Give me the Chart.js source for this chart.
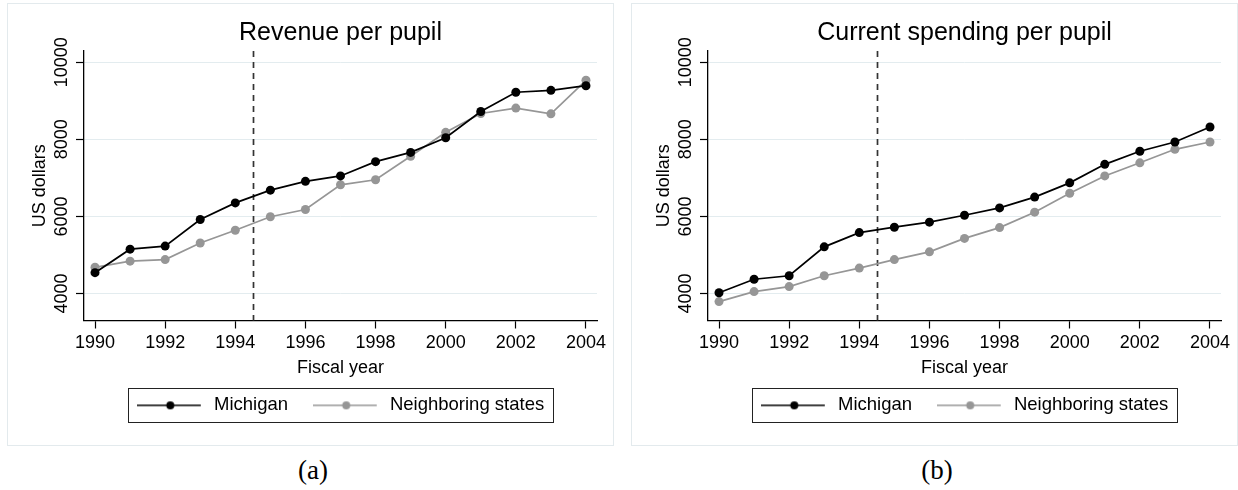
<!DOCTYPE html>
<html>
<head>
<meta charset="utf-8">
<script src="https://cdn.jsdelivr.net/npm/chart.js@4/dist/chart.umd.min.js"></script>
<style>
  html, body { margin: 0; padding: 0; background: #fff; }
  body { width: 1238px; height: 490px; position: relative; overflow: hidden; }
  .panel { position: absolute; top: 3px; width: 607px; height: 443px; box-sizing: border-box;
           border: 1px solid #e3eaed; background: #fff; }
  .panel canvas { display: block; }
  .cap { position: absolute; top: 455px; width: 120px; text-align: center; color: #000;
         font-family: "Liberation Serif", "Times New Roman", serif; font-size: 27px; line-height: 30px; }
</style>
</head>
<body>
<div class="panel" style="left:7px"><canvas id="revenue" width="605" height="441"></canvas></div>
<div class="panel" style="left:631px"><canvas id="spending" width="605" height="441"></canvas></div>
<div class="cap" style="left:253px">(a)</div>
<div class="cap" style="left:877px">(b)</div>

<script>
// Fiscal years and per-pupil dollar figures
const years = [1990, 1991, 1992, 1993, 1994, 1995, 1996, 1997, 1998, 1999, 2000, 2001, 2002, 2003, 2004];
const revenueMichigan  = [4540, 5150, 5230, 5920, 6350, 6680, 6910, 7050, 7420, 7660, 8040, 8720, 9220, 9270, 9390];
const revenueNeighbors = [4680, 4840, 4880, 5310, 5640, 5990, 6180, 6820, 6950, 7560, 8180, 8670, 8810, 8660, 9530];
const spendingMichigan  = [4020, 4370, 4460, 5210, 5580, 5720, 5850, 6030, 6220, 6500, 6870, 7350, 7690, 7930, 8320];
const spendingNeighbors = [3790, 4050, 4180, 4460, 4660, 4880, 5080, 5430, 5710, 6110, 6600, 7050, 7390, 7740, 7930];

const yearTicks = [1990, 1992, 1994, 1996, 1998, 2000, 2002, 2004];
const dollarTicks = [4000, 6000, 8000, 10000];
const seriesNames = ['Michigan', 'Neighboring states'];
const reformYear = 1994.5;   // Proposal A took effect between FY1994 and FY1995

const FONT = '"Liberation Sans", Arial, Helvetica, sans-serif';
const TICK_SIZE = 18;
const COLORS = ['#000000', '#969696'];

Chart.defaults.font.family = FONT;
Chart.defaults.color = '#000';

// Width of the widest dollar label, used to centre the rotated labels beside the axis
const measure = document.createElement('canvas').getContext('2d');
measure.font = 'normal ' + TICK_SIZE + 'px ' + FONT;
const widestDollar = Math.max(...dollarTicks.map(v => measure.measureText(String(v)).width));
const Y_AXIS_W = 76, TICK_LEN = 8, LABEL_CENTRE = 54;
const yTickPad = (Y_AXIS_W - TICK_LEN - LABEL_CENTRE) - widestDollar / 2;

// Legend key: a short line with a marker in the middle
function legendKey(color) {
  const c = document.createElement('canvas');
  c.width = 68; c.height = 12;
  const g = c.getContext('2d');
  g.strokeStyle = color; g.lineWidth = 1.6;
  g.beginPath(); g.moveTo(0, 6); g.lineTo(64, 6); g.stroke();
  g.fillStyle = color;
  g.beginPath(); g.arc(33.5, 6, 4, 0, Math.PI * 2); g.fill();
  return c;
}
const legendKeys = COLORS.map(legendKey);

// Vertical dashed reference line at the reform year
const reformLine = {
  id: 'reformLine',
  beforeDatasetsDraw(chart) {
    const { ctx, chartArea, scales } = chart;
    const x = Math.round(scales.x.getPixelForValue(reformYear)) + 0.5;
    ctx.save();
    ctx.strokeStyle = '#333';
    ctx.lineWidth = 1.7;
    ctx.setLineDash([6, 5]);
    ctx.beginPath();
    ctx.moveTo(x, chartArea.top);
    ctx.lineTo(x, chartArea.bottom);
    ctx.stroke();
    ctx.restore();
  }
};

// Frame drawn around the legend entries
const legendFrame = {
  id: 'legendFrame',
  afterDraw(chart) {
    const boxes = chart.legend && chart.legend.legendHitBoxes;
    if (!boxes || !boxes.length) return;
    const first = boxes[0], last = boxes[boxes.length - 1];
    const left = Math.round(first.left - 9) + 0.5;
    const right = Math.round(last.left + last.width + 9) + 0.5;
    const cy = first.top + first.height / 2;
    const top = Math.round(cy - 17.5) + 0.5;
    const bottom = Math.round(cy + 16.5) + 0.5;
    const ctx = chart.ctx;
    ctx.save();
    ctx.strokeStyle = '#222';
    ctx.lineWidth = 1;
    ctx.strokeRect(left, top, right - left, bottom - top);
    ctx.restore();
  }
};

function makeChart(canvasId, title, michigan, neighbors) {
  const series = [michigan, neighbors];
  return new Chart(document.getElementById(canvasId), {
    type: 'line',
    data: {
      datasets: series.map((vals, i) => ({
        label: seriesNames[i],
        data: years.map((yr, k) => ({ x: yr, y: vals[k] })),
        borderColor: COLORS[i],
        backgroundColor: COLORS[i],
        pointBackgroundColor: COLORS[i],
        pointBorderColor: COLORS[i],
        borderWidth: 1.7,
        pointRadius: 4.5,
        pointBorderWidth: 0,
        tension: 0,
        fill: false
      }))
    },
    options: {
      responsive: false,
      devicePixelRatio: 1,
      animation: false,
      events: [],
      layout: { padding: { top: 0, left: 0, right: 16, bottom: 20.4 } },
      scales: {
        x: {
          type: 'linear',
          min: 1989.686,
          max: 2004.314,
          afterBuildTicks: s => { s.ticks = yearTicks.map(v => ({ value: v })); },
          afterFit: s => { s.height = 51; },
          ticks: { callback: v => String(v), font: { size: TICK_SIZE }, padding: 3.5, color: '#000', maxRotation: 0, autoSkip: false },
          grid: { display: true, drawOnChartArea: false, tickLength: TICK_LEN, tickColor: '#000', tickWidth: 1.2 },
          border: { display: true, color: '#000', width: 1.3 },
          title: { display: true, text: 'Fiscal year', font: { size: 18 }, color: '#000', padding: { top: 0, bottom: -7.2 } }
        },
        y: {
          type: 'linear',
          min: 3300,
          max: 10290,
          afterBuildTicks: s => { s.ticks = dollarTicks.map(v => ({ value: v })); },
          afterFit: s => { s.width = Y_AXIS_W; },
          ticks: { callback: v => String(v), font: { size: TICK_SIZE }, color: '#000',
                   minRotation: 90, maxRotation: 90, crossAlign: 'center', padding: yTickPad, autoSkip: false },
          grid: { display: true, drawOnChartArea: true, color: '#e3ecef', lineWidth: 1,
                  tickLength: TICK_LEN, tickColor: '#000', tickWidth: 1.2 },
          border: { display: true, color: '#000', width: 1.3 },
          title: { display: true, text: 'US dollars', font: { size: 18 }, color: '#000', padding: { top: 21.2, bottom: 0 } }
        }
      },
      plugins: {
        title: {
          display: true, text: title, fullSize: false,
          font: { size: 25, weight: 'normal' }, color: '#000',
          padding: { top: 14, bottom: 3 }
        },
        legend: {
          display: true, position: 'bottom', fullSize: false,
          labels: {
            usePointStyle: true,
            pointStyleWidth: 68,
            padding: 24.6,
            color: '#000',
            font: { size: 18.5 },
            generateLabels: chart => chart.data.datasets.map((ds, i) => ({
              text: ds.label,
              pointStyle: legendKeys[i],
              fillStyle: COLORS[i],
              strokeStyle: COLORS[i],
              lineWidth: 0,
              hidden: false,
              datasetIndex: i
            }))
          }
        },
        tooltip: { enabled: false }
      }
    },
    plugins: [reformLine, legendFrame]
  });
}

makeChart('revenue', 'Revenue per pupil', revenueMichigan, revenueNeighbors);
makeChart('spending', 'Current spending per pupil', spendingMichigan, spendingNeighbors);
</script>
</body>
</html>
